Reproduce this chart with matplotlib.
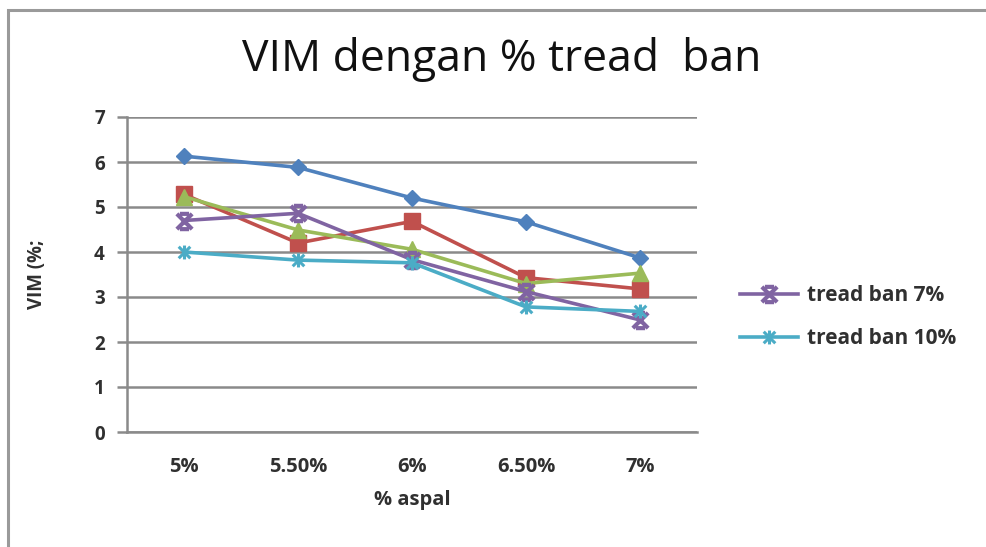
import matplotlib
matplotlib.use("Agg")
import matplotlib.pyplot as plt
from matplotlib.path import Path
from matplotlib.patches import Rectangle
import numpy as np

categories = ["5%", "5.50%", "6%", "6.50%", "7%"]
series_names = ["tread ban 0%", "tread ban 3%", "tread ban 5%", "tread ban 7%", "tread ban 10%"]
s_blue = [6.13, 5.88, 5.20, 4.67, 3.87]
s_red = [5.28, 4.20, 4.68, 3.43, 3.18]
s_green = [5.23, 4.49, 4.06, 3.30, 3.53]
s_purple = [4.70, 4.86, 3.83, 3.12, 2.49]
s_cyan = [4.00, 3.82, 3.76, 2.78, 2.68]
yticks = [0, 1, 2, 3, 4, 5, 6, 7]

plt.rcParams['font.family'] = ['Open Sans', 'DejaVu Sans']

fig = plt.figure(figsize=(9.86, 5.47), dpi=100)
# outer chart frame
fig.patches.append(Rectangle((8/986, -0.05), 1.1, 1 - 10/547 + 0.05, transform=fig.transFigure,
                             fill=False, edgecolor='#9a9a9a', linewidth=2.2, clip_on=False))

ax = fig.add_axes([127/986, 1 - 432/547, 570/986, 315/547])

# custom markers
xbar = Path([(-1, 1), (1, -1), (-1, -1), (1, 1), (-0.6, 1), (0.6, 1), (-0.6, -1), (0.6, -1)],
            [Path.MOVETO, Path.LINETO, Path.MOVETO, Path.LINETO,
             Path.MOVETO, Path.LINETO, Path.MOVETO, Path.LINETO])
star = Path([(-1, 1), (1, -1), (-1, -1), (1, 1), (0, 1.2), (0, -1.2)],
            [Path.MOVETO, Path.LINETO, Path.MOVETO, Path.LINETO, Path.MOVETO, Path.LINETO])

x = np.arange(len(categories))
lw = 2.6
ax.plot(x, s_blue, color='#4F81BD', lw=lw, marker='D', ms=8, label='_' + series_names[0], zorder=3)
ax.plot(x, s_red, color='#C0504D', lw=lw, marker='s', ms=12, label='_' + series_names[1], zorder=3)
ax.plot(x, s_green, color='#9BBB59', lw=lw, marker='^', ms=11, label='_' + series_names[2], zorder=3)
ax.plot(x, s_purple, color='#8064A2', lw=lw, marker=xbar, ms=11, mew=3, label=series_names[3], zorder=3)
ax.plot(x, s_cyan, color='#4BACC6', lw=lw, marker=star, ms=10, mew=2.2, label=series_names[4], zorder=3)

ax.set_xlim(-0.5, 4.5)
ax.set_ylim(0, 7)
ax.set_yticks(yticks)
ax.set_xticks(x)
ax.set_xticklabels(categories)
ax.yaxis.grid(True, color='#8a8a8a', lw=1.8)
ax.set_axisbelow(True)
for s in ['top', 'right']:
    ax.spines[s].set_visible(False)
ax.spines['left'].set_color('#8a8a8a')
ax.spines['bottom'].set_color('#8a8a8a')
ax.spines['left'].set_linewidth(1.8)
ax.spines['bottom'].set_linewidth(1.8)
ax.tick_params(axis='y', length=7, width=1.8, color='#8a8a8a', labelsize=13.5, pad=9, labelcolor='#303030')
ax.tick_params(axis='x', length=0, labelsize=14.5, pad=18, labelcolor='#303030')
for lab in ax.get_xticklabels() + ax.get_yticklabels():
    lab.set_fontweight('bold')

ax.set_xlabel('% aspal', fontsize=14.5, fontweight='bold', color='#303030', labelpad=9)
ax.set_ylabel('VIM (%;', fontsize=13.5, fontweight='bold', color='#303030')
ax.yaxis.set_label_coords(-80/570, 0.5)

fig.text(502/986, 1 - 60/547, 'VIM dengan % tread  ban', fontsize=32, ha='center', va='center', color='#111111')

leg = fig.legend(loc='center left', bbox_to_anchor=(721/986, 1 - 317/547), frameon=False,
                 fontsize=15, handlelength=2.8, labelspacing=1.05, handletextpad=0.45)
for t in leg.get_texts():
    t.set_fontweight('bold')
    t.set_color('#303030')

fig.savefig('out.png', dpi=100)
